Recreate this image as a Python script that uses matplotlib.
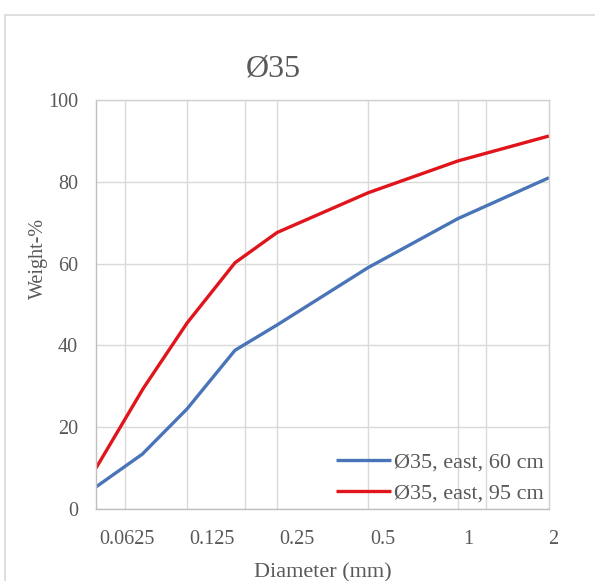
import matplotlib
matplotlib.use("Agg")
import matplotlib.pyplot as plt
from matplotlib.ticker import FixedLocator, NullFormatter
from matplotlib.patches import Rectangle

# ---- data ----
diam_60 = [0.0486, 0.0708, 0.102, 0.1505, 0.212, 0.444, 0.923, 1.936]
w_60 = [5.4, 13.4, 24.5, 38.8, 45.0, 59.0, 71.0, 81.0]

diam_95 = [0.0486, 0.0714, 0.102, 0.1505, 0.212, 0.444, 0.923, 1.936]
w_95 = [10.0, 29.5, 45.5, 60.2, 67.6, 77.3, 85.1, 91.2]

x_ticks = [0.0625, 0.125, 0.25, 0.5, 1]
x_tick_labels = ["0.0625", "0.125", "0.25", "0.5", "1"]
x_last_tick = 2
x_last_label = "2"
x_grid = [0.0615, 0.102, 0.163, 0.212, 0.444, 0.923, 1.16]
y_ticks = [0, 20, 40, 60, 80, 100]

label_60 = "Ø35, east, 60 cm"
label_95 = "Ø35, east, 95 cm"
title = "Ø35"

plt.rcParams['font.family'] = ['Liberation Serif', 'DejaVu Serif']
txt = "#595959"
grid_c = "#d9d9d9"
tick_fs = 14.5

fig = plt.figure(figsize=(5.95, 5.81), dpi=100)
fig.patches.append(Rectangle((5/595, -0.1), 1.2, 1 - 15/581 + 0.1,
                             transform=fig.transFigure, fill=False,
                             edgecolor="#d9d9d9", linewidth=1.2))

ax = fig.add_axes([96/595, 1 - 509/581, (549-96)/595, (509-100)/581])
ax.set_xscale('log', base=2)
ax.set_xlim(0.0486, 1.936)
ax.set_ylim(0, 100)

ax.plot(diam_60, w_60, color="#4a74b8", lw=2.4, label=label_60, solid_capstyle='butt')
ax.plot(diam_95, w_95, color="#e0151b", lw=2.4, label=label_95, solid_capstyle='butt')

ax.xaxis.set_major_locator(FixedLocator(x_ticks))
ax.set_xticklabels(x_tick_labels)
ax.xaxis.set_minor_locator(FixedLocator(x_grid))
ax.xaxis.set_minor_formatter(NullFormatter())
ax.set_yticks(y_ticks)

ax.grid(True, which='minor', axis='x', color=grid_c, lw=1)
ax.grid(True, which='major', axis='y', color=grid_c, lw=1)
ax.set_axisbelow(True)

xpad = 15
ax.tick_params(axis='both', which='both', length=0, labelcolor=txt, labelsize=tick_fs)
ax.tick_params(axis='x', pad=xpad)
ax.tick_params(axis='y', pad=13)
# last category label sits just past the plot edge, as in the reference
ax.annotate(x_last_label, xy=(x_last_tick, 0), xycoords=ax.get_xaxis_transform(),
            xytext=(0, -xpad), textcoords='offset points', ha='center', va='top',
            fontsize=tick_fs, color=txt, annotation_clip=False)

for s in ax.spines.values():
    s.set_color("#d0d0d0")
    s.set_linewidth(1)
ax.spines['left'].set_color("#bfbfbf")
ax.spines['bottom'].set_color("#bfbfbf")

fig.text(273/595, 1 - 69/581, title, ha='center', va='center', fontsize=23, color=txt)
fig.text(38/595, 1 - 258/581, "Weight-%", ha='center', va='center', rotation=90,
         fontsize=14.5, color=txt)
fig.text(323/595, 1 - 563/581, "Diameter (mm)", ha='center', va='top',
         fontsize=16, color=txt)

leg = ax.legend(loc='lower right', frameon=False, fontsize=16, handlelength=2.5,
                handletextpad=0.1, labelspacing=0.45, borderaxespad=0.0,
                borderpad=0.25, labelcolor=txt)

fig.savefig("out.png", dpi=100, facecolor='white')
